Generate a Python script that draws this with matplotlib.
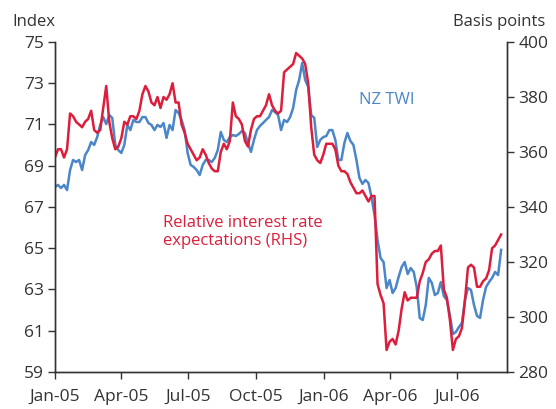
import numpy as np
import pandas as pd
import matplotlib
matplotlib.use("Agg")
from matplotlib import pyplot as plt
import matplotlib.dates as mdates

plt.rcParams['font.family'] = ['Open Sans', 'DejaVu Sans']

## data: roughly every 4 days from Jan 2005 to end Aug 2006
start_date = '2005-01-01'
end_date = '2006-08-30'

# NZ TWI, index (LHS)
nz_twi = [67.97, 68.07, 67.92, 68.07, 67.82, 68.79, 69.28, 69.18, 69.28, 68.79,
          69.52, 69.76, 70.15, 70.01, 70.39, 70.98, 71.36, 71.02, 71.46, 71.32,
          70.01, 69.76, 69.62, 70.01, 70.98, 70.73, 71.22, 71.12, 71.12, 71.36,
          71.36, 71.07, 70.98, 70.73, 70.98, 70.88, 71.07, 70.35, 70.98, 70.73,
          71.70, 71.56, 71.22, 70.73, 69.62, 69.04, 68.94, 68.79, 68.55, 69.04,
          69.28, 69.28, 69.18, 69.38, 69.76, 70.64, 70.25, 70.15, 70.39, 70.49,
          70.44, 70.54, 70.68, 70.59, 70.10, 69.67, 70.25, 70.73, 70.93, 71.07,
          71.22, 71.36, 71.70, 71.60, 71.46, 70.73, 71.22, 71.12, 71.36, 71.80,
          72.67, 73.16, 73.98, 73.16, 72.82, 71.46, 71.32, 69.91, 70.25, 70.39,
          70.44, 70.73, 70.73, 70.25, 69.28, 69.28, 70.10, 70.59, 70.20, 70.01,
          69.28, 68.41, 68.12, 68.31, 68.16, 67.48, 66.61, 65.40, 64.53, 64.33,
          63.07, 63.46, 62.83, 63.07, 63.61, 64.09, 64.33, 63.75, 64.04, 63.85,
          63.12, 61.62, 61.52, 62.25, 63.56, 63.32, 62.73, 62.83, 63.36, 62.68,
          62.49, 61.76, 60.84, 60.94, 61.18, 61.38, 62.49, 63.07, 62.98, 62.25,
          61.72, 61.62, 62.49, 63.12, 63.36, 63.56, 63.85, 63.70, 64.92]

# relative interest rate expectations, basis points (RHS)
rel_rates = [358, 361, 361, 358, 361, 374, 373, 371, 370, 369,
             371, 372, 375, 368, 367, 368, 376, 384, 371, 365,
             361, 362, 365, 371, 370, 373, 373, 372, 375, 381,
             384, 382, 378, 377, 380, 376, 380, 379, 381, 385,
             378, 378, 370, 367, 363, 361, 359, 357, 358, 361,
             359, 356, 354, 353, 353, 360, 363, 361, 364, 378,
             373, 372, 370, 364, 362, 368, 372, 373, 373, 375,
             377, 381, 377, 375, 374, 375, 389, 390, 391, 392,
             396, 395, 394, 392, 385, 369, 359, 357, 356, 359,
             363, 363, 363, 361, 355, 353, 353, 352, 349, 347,
             345, 345, 346, 344, 342, 344, 344, 312, 308, 305,
             288, 291, 292, 290, 295, 303, 309, 306, 307, 307,
             307, 313, 316, 320, 321, 323, 324, 324, 326, 310,
             307, 299, 288, 292, 293, 296, 306, 318, 319, 318,
             311, 311, 313, 314, 317, 325, 326, 328, 330]

dates = pd.date_range(start_date, end_date, periods=len(nz_twi))

red = '#dc1e3c'
blue = '#4a86c8'
txt = '#333333'

fig = plt.figure(figsize=(5.56, 4.09), dpi=100)
ax = fig.add_axes([0.0989, 0.0905, 0.8130, 0.8068])
ax2 = ax.twinx()

ax.plot(dates, nz_twi, color=blue, lw=1.8)
ax2.plot(dates, rel_rates, color=red, lw=1.8)

ax.set_ylim(59, 75)
ax.set_yticks(np.arange(59, 76, 2))
ax2.set_ylim(280, 400)
ax2.set_yticks(np.arange(280, 401, 20))
ax.set_xlim(pd.Timestamp('2005-01-01'), pd.Timestamp('2006-09-07'))

ax.xaxis.set_major_locator(mdates.MonthLocator(bymonth=[1, 4, 7, 10]))
ax.xaxis.set_major_formatter(mdates.DateFormatter('%b-%y'))

for a in (ax, ax2):
    a.spines['top'].set_visible(False)
    for s in a.spines.values():
        s.set_color(txt)
        s.set_linewidth(1.0)
    a.tick_params(direction='out', length=5, width=1, colors=txt,
                  labelsize=12.5, pad=3)
ax.tick_params(axis='x', pad=7)

fig.text(0.023, 0.945, 'Index', fontsize=12, color=txt, ha='left', va='center')
fig.text(0.98, 0.945, 'Basis points', fontsize=12, color=txt, ha='right', va='center')

ax2.text(0.695, 0.756, 'NZ TWI', transform=fig.transFigure, color=blue,
         fontsize=12, ha='center', va='center')
ax2.text(0.293, 0.433, 'Relative interest rate\nexpectations (RHS)',
         transform=fig.transFigure, color=red, fontsize=12, ha='left',
         va='center', linespacing=1.1)

plt.savefig('out.png', dpi=100)
plt.close(fig)
